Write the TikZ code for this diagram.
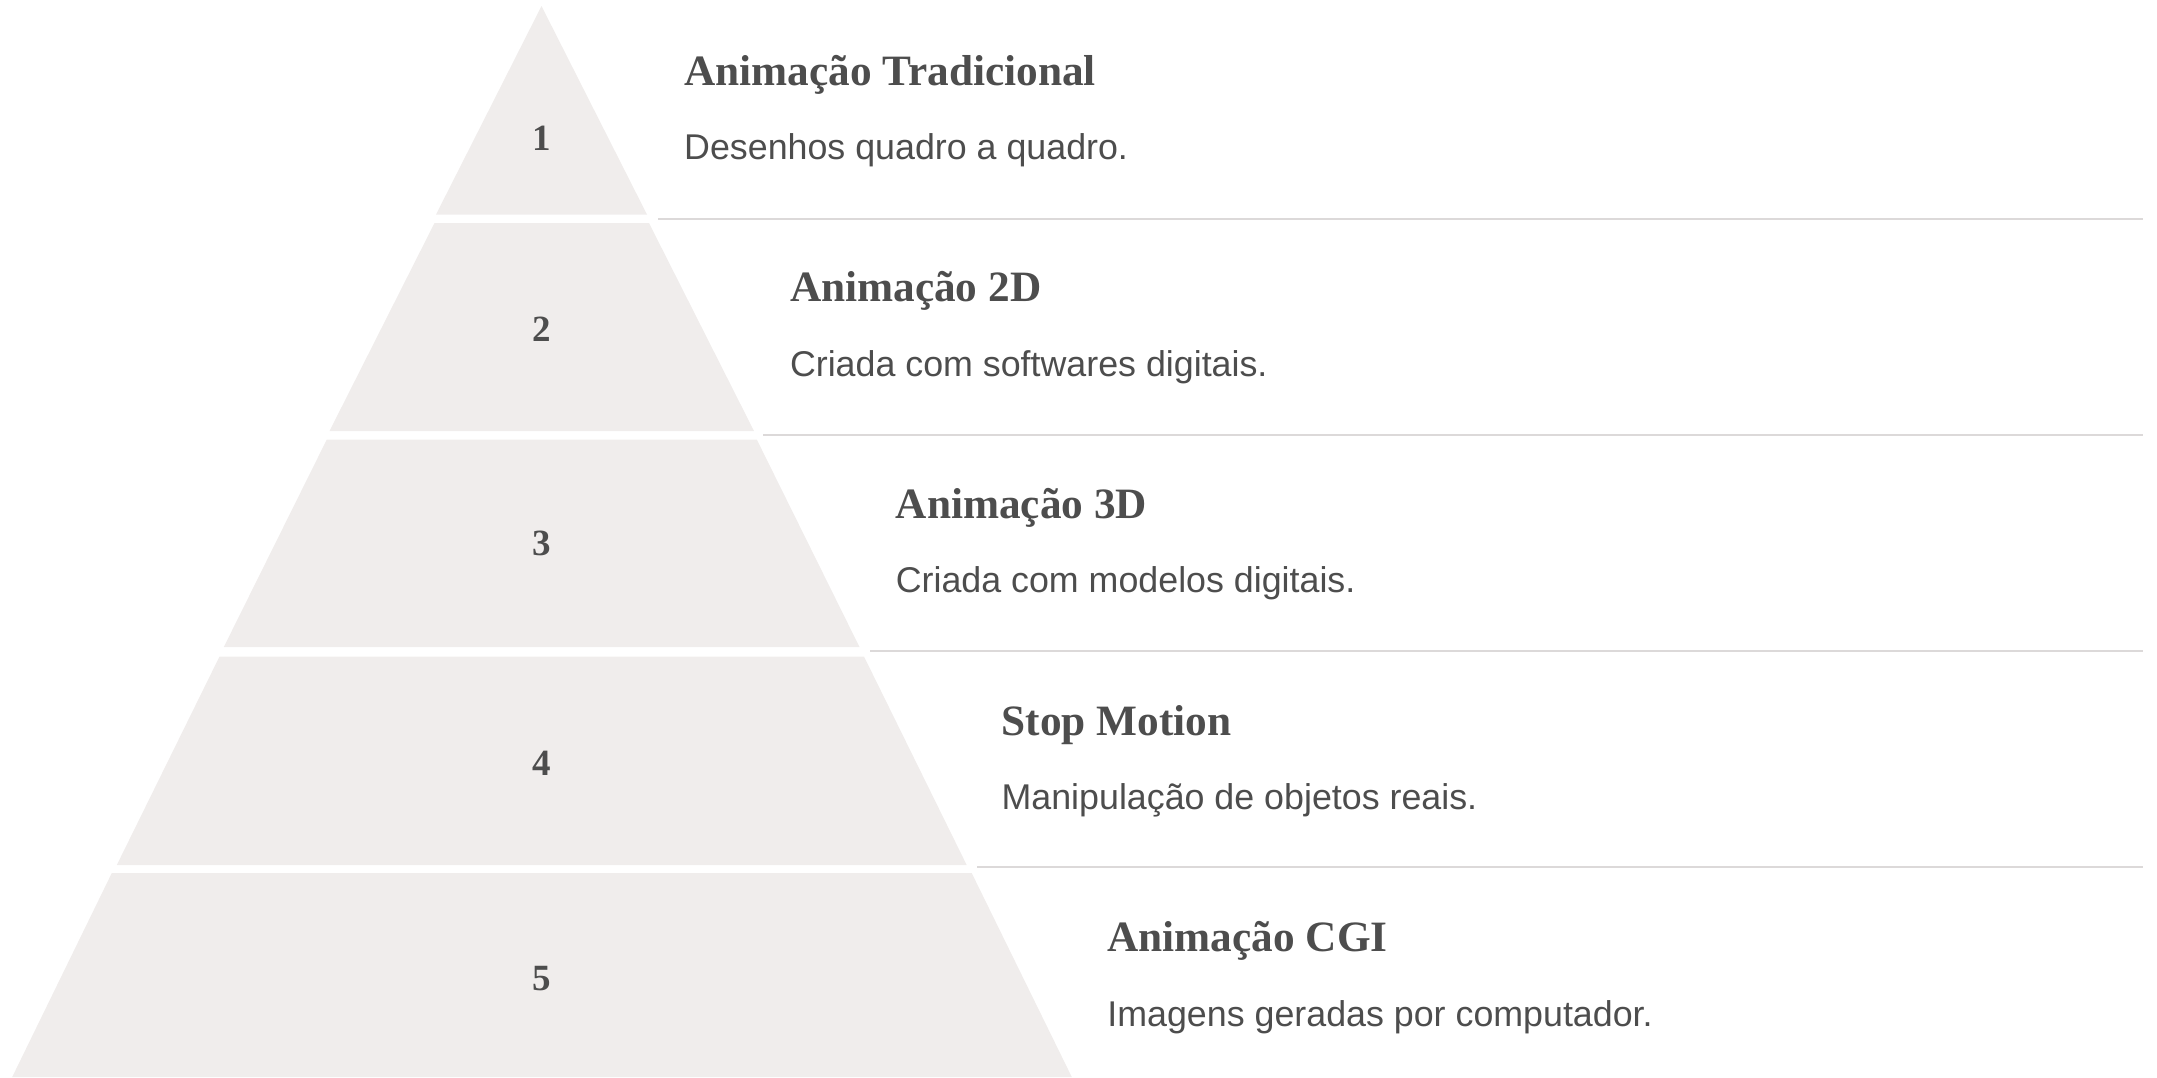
\documentclass[tikz,border=0pt]{standalone}
\usepackage{fontspec}
\setmainfont{Liberation Serif}
\newfontfamily\descfont{Liberation Sans}
\definecolor{tierfill}{HTML}{F0EDEC}
\definecolor{txt}{HTML}{4D4D4D}
\definecolor{sepline}{HTML}{DCD9D9}
\tikzset{
  tier/.style={fill=tierfill, draw=none},
  numlabel/.style={text=txt, font=\fontsize{37}{40}\selectfont\bfseries, inner sep=0pt, anchor=center},
  titlelabel/.style={text=txt, font=\fontsize{43.3}{48}\selectfont\bfseries, inner sep=0pt, anchor=base west},
  desclabel/.style={text=txt, font=\descfont\fontsize{35.8}{40}\selectfont, inner sep=0pt, anchor=base west},
  sep/.style={draw=sepline, line width=2pt}
}
\begin{document}
\begin{tikzpicture}[x=1pt, y=-1pt]
\useasboundingbox (0,0) rectangle (2157,1077);
% tiers
\fill[tier] (541.5,6) -- (647,214.5) -- (436,214.5) -- cycle;
\fill[tier] (434.5,223) -- (649,223) -- (754,431) -- (329.5,431) -- cycle;
\fill[tier] (326.8,439.5) -- (756.8,439.5) -- (859.5,647) -- (223.8,647) -- cycle;
\fill[tier] (219.5,656.5) -- (864,656.5) -- (966.7,865) -- (116.8,865) -- cycle;
\fill[tier] (111.8,873) -- (971.7,873) -- (1071.8,1077) -- (12.2,1077) -- cycle;
% numbers
\node[numlabel] (n1) at (541.5,138) {1};
\node[numlabel] (n2) at (541.5,329) {2};
\node[numlabel] (n3) at (541.5,543.5) {3};
\node[numlabel] (n4) at (541.5,763.5) {4};
\node[numlabel] (n5) at (541.5,978.5) {5};
% separators
\coordinate (s1a) at (658,219);   \coordinate (s1b) at (2142.5,219);
\coordinate (s2a) at (763,434.7); \coordinate (s2b) at (2142.5,434.7);
\coordinate (s3a) at (870,651);   \coordinate (s3b) at (2142.5,651);
\coordinate (s4a) at (977,867);   \coordinate (s4b) at (2142.5,867);
\draw[sep] (s1a) -- (s1b);
\draw[sep] (s2a) -- (s2b);
\draw[sep] (s3a) -- (s3b);
\draw[sep] (s4a) -- (s4b);
% texts
\node[titlelabel] (t1) at (684,85) {Animação Tradicional};
\node[desclabel] (d1) at (684,159.3) {Desenhos quadro a quadro.};
\node[titlelabel] (t2) at (789.8,301.7) {Animação 2D};
\node[desclabel] (d2) at (789.8,376) {Criada com softwares digitais.};
\node[titlelabel] (t3) at (895.6,518.4) {Animação 3D};
\node[desclabel] (d3) at (895.6,592.7) {Criada com modelos digitais.};
\node[titlelabel] (t4) at (1001.4,735.1) {Stop Motion};
\node[desclabel] (d4) at (1001.4,809.4) {Manipulação de objetos reais.};
\node[titlelabel] (t5) at (1107.2,951.8) {Animação CGI};
\node[desclabel] (d5) at (1107.2,1026) {Imagens geradas por computador.};
\end{tikzpicture}
\end{document}
